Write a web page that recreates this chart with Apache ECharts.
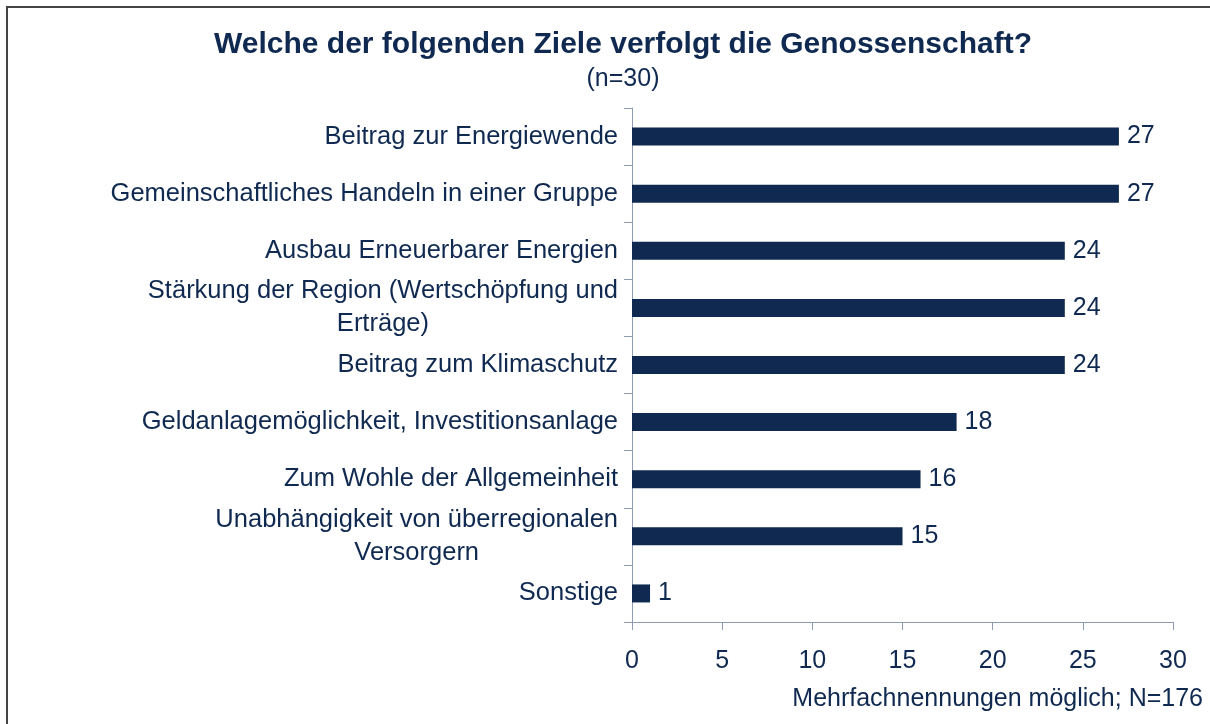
<!DOCTYPE html>
<html>
<head>
<meta charset="utf-8">
<script src="https://cdn.jsdelivr.net/npm/echarts@6/dist/echarts.min.js"></script>
<style>
html, body { margin: 0; padding: 0; background: #fff; }
#chart { width: 1210px; height: 724px; }
</style>
</head>
<body>
<div id="chart"></div>
<script>
const categories = [
    'Beitrag zur Energiewende',
    'Gemeinschaftliches Handeln in einer Gruppe',
    'Ausbau Erneuerbarer Energien',
    'Stärkung der Region (Wertschöpfung und\nErträge)',
    'Beitrag zum Klimaschutz',
    'Geldanlagemöglichkeit, Investitionsanlage',
    'Zum Wohle der Allgemeinheit',
    'Unabhängigkeit von überregionalen\nVersorgern',
    'Sonstige'
]
const counts = [27, 27, 24, 24, 24, 18, 16, 15, 1]

const navy = '#0f2950'
const axisGrey = '#8d9bb3'
const font = '"Liberation Sans", Arial, sans-serif'

let chart = echarts.init(document.getElementById('chart'))
chart.setOption({
    animation: false,
    textStyle: { fontFamily: font, color: navy },
    title: {
        text: 'Welche der folgenden Ziele verfolgt die Genossenschaft?',
        subtext: '(n=30)',
        left: 618,
        textAlign: 'center',
        top: 25,
        itemGap: 7,
        textStyle: { fontFamily: font, fontSize: 30, fontWeight: 'bold', color: navy },
        subtextStyle: { fontFamily: font, fontSize: 25, color: navy }
    },
    // frame (left and top edge only, as in the cropped original)
    graphic: [{
        type: 'polyline',
        shape: { points: [[7, 724], [7, 7], [1210, 7]] },
        style: { stroke: '#444', lineWidth: 2, fill: null }
    }],
    grid: { left: 632, right: 37, top: 108, bottom: 102, containLabel: false },
    xAxis: {
        type: 'value',
        min: 0,
        max: 30,
        interval: 5,
        name: 'Mehrfachnennungen möglich; N=176',
        nameLocation: 'end',
        nameGap: 0,
        nameTextStyle: {
            fontSize: 25,
            color: navy,
            align: 'right',
            verticalAlign: 'top',
            padding: [65, -30, 0, 0]
        },
        axisLine: { show: true, lineStyle: { color: axisGrey, width: 1 } },
        axisTick: { show: true, length: 8, lineStyle: { color: axisGrey } },
        axisLabel: { fontSize: 25, color: navy, margin: 27 },
        splitLine: { show: false }
    },
    yAxis: {
        type: 'category',
        inverse: true,
        data: categories,
        axisLine: { show: true, lineStyle: { color: axisGrey, width: 1 } },
        axisTick: { show: true, length: 8, lineStyle: { color: axisGrey } },
        axisLabel: {
            margin: 14,
            formatter: function(v) {
                return '{c|' + v + '}'
            },
            rich: {
                c: { fontSize: 25.5, lineHeight: 33, color: navy, align: 'center', fontFamily: font }
            }
        }
    },
    series: [{
        type: 'bar',
        data: counts,
        barWidth: 18,
        itemStyle: { color: navy },
        label: {
            show: true,
            position: 'right',
            distance: 8,
            fontSize: 25,
            color: navy
        }
    }]
})
</script>
</body>
</html>
